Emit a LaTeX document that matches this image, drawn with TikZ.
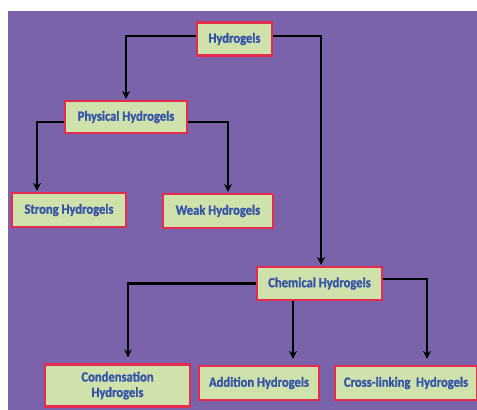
\documentclass[tikz,border=0pt]{standalone}
\usepackage{fontspec}
\newfontfamily\boxfont[FakeStretch=0.9,BoldFeatures={FakeBold=1.5}]{Carlito}
\usepackage{tikz}
\usetikzlibrary{positioning}
\usetikzlibrary{arrows.meta}
\definecolor{bgpurple}{RGB}{123,99,171}
\definecolor{boxgreen}{RGB}{207,226,172}
\definecolor{boxred}{RGB}{228,44,78}
\definecolor{textblue}{RGB}{55,84,166}
\tikzstyle{gelbox}=[rectangle,draw=boxred,fill=boxgreen,line width=2.2pt,inner sep=2pt,align=center,text=textblue,font=\boxfont\bfseries\fontsize{14}{15.5}\selectfont]
\tikzstyle{branch} = [draw,line width=2.6pt,-{Stealth[length=8pt,width=8pt]}]

\begin{document}
\begin{tikzpicture}[x=1pt,y=-1pt]

    \useasboundingbox (0,0) rectangle (477,410);
    \fill[bgpurple] (8,11) rectangle (477,410);

    % top level
    \node[gelbox,minimum width=75pt,minimum height=33pt] (hydro) at (234.5,39) {Hydrogels};
    \node[gelbox,minimum width=122pt,minimum height=32pt] (phys) at (126,117) {Physical Hydrogels};
    \node[gelbox,minimum width=125pt,minimum height=33pt] (chem) at (319.5,283.5) {Chemical Hydrogels};

    % physical branch
    \node[gelbox,minimum width=114pt,minimum height=34pt] (strong) at (69,210) {Strong Hydrogels};
    \node[gelbox,minimum width=110pt,minimum height=34pt] (weak) at (218,211) {Weak Hydrogels};

    % chemical branch
    \node[gelbox,minimum width=145pt,minimum height=42pt] (cond) at (117.5,385.5) {Condensation\\Hydrogels};
    \node[gelbox,minimum width=120pt,minimum height=34pt] (add) at (259,383) {Addition Hydrogels};
    \node[gelbox,minimum width=142pt,minimum height=34pt] (cross) at (406,383) {Cross-linking~~Hydrogels};

    % Connect boxes
    \path[branch,shorten >=1pt] ([yshift=3pt]hydro.west) -| (phys.north);
    \path[branch,shorten >=1pt] ([yshift=3pt]hydro.east) -| ([xshift=1.5pt]chem.north);
    \path[branch,shorten >=1pt] ([yshift=-5pt]phys.west) -| ([xshift=-32pt]strong.north);
    \path[branch,shorten >=1pt] ([yshift=-5pt]phys.east) -| ([xshift=10pt]weak.north);
    \path[branch,shorten >=6pt] (chem.west) -| ([xshift=10.5pt]cond.north);
    \path[branch,shorten >=6pt] ([xshift=-26.5pt]chem.south) -- ([xshift=34pt]add.north);
    \path[branch,shorten >=6pt] ([yshift=4.5pt]chem.east) -| ([xshift=21pt]cross.north);

\end{tikzpicture}
\end{document}
